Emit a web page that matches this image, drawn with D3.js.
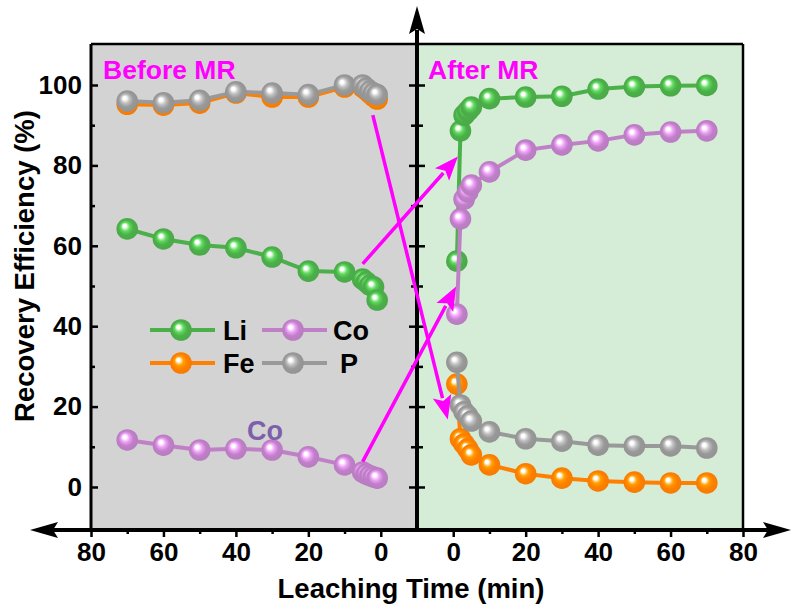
<!DOCTYPE html>
<html>
<head>
<meta charset="utf-8">
<script src="https://cdn.jsdelivr.net/npm/d3@7/dist/d3.min.js"></script>
<style>
  html, body { margin: 0; padding: 0; background: #fff; }
  svg { display: block; font-family: "Liberation Sans", Arial, sans-serif; }
</style>
</head>
<body>
<svg id="chart" width="792" height="608"></svg>
<script>
// ---------- data ----------
const timesBefore = [70, 60, 50, 40, 30, 20, 10, 5, 4, 3, 2, 1];
const liBefore = [64.2, 61.7, 60.2, 59.5, 57.2, 53.7, 53.5, 51.7, 51.0, 50.2, 49.8, 46.5];
const coBefore = [11.7, 10.4, 9.2, 9.5, 9.2, 7.5, 5.5, 3.7, 3.2, 2.8, 2.5, 2.2];
const feBefore = [95.2, 95.0, 95.5, 98.0, 97.0, 97.0, 99.5, 99.5, 98.8, 98.0, 97.2, 96.5];
const pBefore  = [96.0, 95.6, 96.2, 98.3, 98.0, 97.6, 100.0, 100.0, 99.2, 98.5, 98.0, 97.6];

const timesAfter = [1, 2, 3, 4, 5, 10, 20, 30, 40, 50, 60, 70];
const liAfter = [56.2, 88.6, 92.5, 93.5, 94.5, 96.6, 97.0, 97.2, 99.0, 99.6, 99.8, 99.9];
const coAfter = [43.0, 66.7, 71.6, 73.4, 75.1, 78.4, 83.8, 85.1, 86.1, 87.6, 88.3, 88.6];
const feAfter = [25.6, 12.0, 10.7, 9.5, 8.0, 5.5, 3.3, 2.2, 1.5, 1.2, 1.0, 1.0];
const pAfter  = [31.0, 20.4, 18.7, 17.7, 16.4, 13.7, 12.0, 11.4, 10.4, 10.2, 10.2, 9.7];

const seriesNames = ["Li", "Co", "Fe", "P"];
const seriesColors = ["#4cb04a", "#c080c8", "#ff8000", "#999999"];
const yTicks = [0, 20, 40, 60, 80, 100];
const yMinor = [10, 30, 50, 70, 90];
const xTicksLeft = [80, 60, 40, 20, 0];
const xTicksRight = [0, 20, 40, 60, 80];
const xMinor = [70, 50, 30, 10];
// arrows: from (time before, value) to (time after, value)
const arrowsData = [
  {from: [5, 55.5], to: [1.3, 82.2]},
  {from: [5, 6.3], to: [0.8, 49.9]},
  {from: [2.2, 92.5], to: [-1.5, 16.8]}
];

// ---------- layout ----------
const svg = d3.select("#chart");
const pLeft = 91, pMid = 417, pRight = 743, pTop = 44, pBottom = 530;
const xL = d3.scaleLinear().domain([80, -10]).range([pLeft, pMid]);
const xR = d3.scaleLinear().domain([-10, 80]).range([pMid, pRight]);
const y = d3.scaleLinear().domain([-10.7, 110.2]).range([pBottom, pTop]);
const FONT = "Liberation Sans, Arial, sans-serif";

// gradients
const defs = svg.append("defs");
seriesColors.forEach((c, i) => {
  const g = defs.append("radialGradient").attr("id", "grad" + i)
    .attr("cx", "0.5").attr("cy", "0.5").attr("r", "0.55")
    .attr("fx", "0.36").attr("fy", "0.34");
  const col = d3.color(c);
  g.append("stop").attr("offset", "0%").attr("stop-color", "#ffffff");
  g.append("stop").attr("offset", "14%").attr("stop-color", "#ffffff");
  g.append("stop").attr("offset", "38%").attr("stop-color", col.brighter(0.6).formatHex());
  g.append("stop").attr("offset", "62%").attr("stop-color", c);
  g.append("stop").attr("offset", "100%").attr("stop-color", col.darker(0.15).formatHex());
});

// backgrounds
svg.append("rect").attr("x", pLeft).attr("y", pTop).attr("width", pMid - pLeft).attr("height", pBottom - pTop).attr("fill", "#d3d3d3");
svg.append("rect").attr("x", pMid).attr("y", pTop).attr("width", pRight - pMid).attr("height", pBottom - pTop).attr("fill", "#d5edd6");

// frame lines
svg.append("line").attr("x1", pLeft).attr("x2", pRight).attr("y1", pTop).attr("y2", pTop).attr("stroke", "#000").attr("stroke-width", 2.5);
svg.append("line").attr("x1", pRight).attr("x2", pRight).attr("y1", pTop).attr("y2", pBottom).attr("stroke", "#000").attr("stroke-width", 2.5);

// left y axis (ticks inward)
const yAxisL = svg.append("g").attr("transform", `translate(${pLeft},0)`)
  .call(d3.axisLeft(y).tickValues(yTicks).tickSize(-7).tickPadding(9).tickFormat(d3.format("d")));
yAxisL.select(".domain").attr("stroke-width", 3).attr("d", `M0,${pTop}V${pBottom}`);
yAxisL.selectAll(".tick line").attr("stroke-width", 2.5);
yAxisL.selectAll(".tick text").attr("font-size", 26).attr("font-weight", "bold").attr("fill", "#000")
  .attr("font-family", FONT);
const yMinL = svg.append("g").attr("transform", `translate(${pLeft},0)`)
  .call(d3.axisLeft(y).tickValues(yMinor).tickSize(-4).tickFormat(""));
yMinL.select(".domain").remove();
yMinL.selectAll(".tick line").attr("stroke-width", 2.5);

// data drawing
function drawSeries(xs, times, vals, i) {
  const line = d3.line().x((d, k) => xs(times[k])).y(d => y(d));
  svg.append("path").datum(vals).attr("d", line).attr("fill", "none")
    .attr("stroke", seriesColors[i]).attr("stroke-width", 4).attr("stroke-linejoin", "round");
  svg.append("g").selectAll("circle").data(vals).join("circle")
    .attr("cx", (d, k) => xs(times[k])).attr("cy", d => y(d)).attr("r", 10.8)
    .attr("fill", `url(#grad${i})`);
}
const before = [liBefore, coBefore, feBefore, pBefore];
const after = [liAfter, coAfter, feAfter, pAfter];
before.forEach((v, i) => drawSeries(xL, timesBefore, v, i));
after.forEach((v, i) => drawSeries(xR, timesAfter, v, i));

// middle axis (crossing ticks)
const midAxis = svg.append("g").attr("transform", `translate(${pMid},0)`);
midAxis.append("g").call(d3.axisLeft(y).tickValues(yTicks).tickSize(8).tickFormat(""))
  .call(g => g.select(".domain").remove());
midAxis.append("g").call(d3.axisRight(y).tickValues(yTicks).tickSize(8).tickFormat(""))
  .call(g => g.select(".domain").remove());
midAxis.append("g").call(d3.axisLeft(y).tickValues(yMinor).tickSize(6).tickFormat(""))
  .call(g => g.select(".domain").remove());
midAxis.append("g").call(d3.axisRight(y).tickValues(yMinor).tickSize(6).tickFormat(""))
  .call(g => g.select(".domain").remove());
midAxis.selectAll(".tick line").attr("stroke-width", 2.5);
midAxis.append("line").attr("x1", 0).attr("x2", 0).attr("y1", 30).attr("y2", pBottom + 2)
  .attr("stroke", "#000").attr("stroke-width", 4);
svg.append("path").attr("d", `M${pMid},6 L${pMid + 8},34 L${pMid},29 L${pMid - 8},34 Z`).attr("fill", "#000");

// bottom axes
function bottomAxis(xs, vals, minors) {
  const g = svg.append("g").attr("transform", `translate(0,${pBottom})`)
    .call(d3.axisBottom(xs).tickValues(vals).tickSize(7).tickPadding(6).tickFormat(d3.format("d")));
  g.select(".domain").remove();
  g.selectAll(".tick line").attr("stroke-width", 2.5);
  g.selectAll(".tick text").attr("font-size", 26).attr("font-weight", "bold").attr("fill", "#000")
    .attr("font-family", FONT);
  const m = svg.append("g").attr("transform", `translate(0,${pBottom})`)
    .call(d3.axisBottom(xs).tickValues(minors).tickSize(4).tickFormat(""));
  m.select(".domain").remove();
  m.selectAll(".tick line").attr("stroke-width", 2.5);
}
bottomAxis(xL, xTicksLeft, xMinor);
bottomAxis(xR, xTicksRight, xMinor);
svg.append("line").attr("x1", 52).attr("x2", 772).attr("y1", pBottom).attr("y2", pBottom)
  .attr("stroke", "#000").attr("stroke-width", 4);
svg.append("path").attr("d", `M30,${pBottom} L58,${pBottom - 8} L53,${pBottom} L58,${pBottom + 8} Z`).attr("fill", "#000");
svg.append("path").attr("d", `M791,${pBottom} L763,${pBottom - 8} L768,${pBottom} L763,${pBottom + 8} Z`).attr("fill", "#000");

// magenta arrows
const magenta = "#ff00ff";
arrowsData.forEach(a => {
  const x1 = xL(a.from[0]), y1 = y(a.from[1]);
  const x2 = xR(a.to[0]), y2 = y(a.to[1]);
  const ang = Math.atan2(y2 - y1, x2 - x1);
  const hl = 24, hw = 9.5;
  const bx = x2 - hl * Math.cos(ang), by = y2 - hl * Math.sin(ang);
  const nx = -Math.sin(ang), ny = Math.cos(ang);
  svg.append("line").attr("x1", x1).attr("y1", y1).attr("x2", bx + 2 * Math.cos(ang)).attr("y2", by + 2 * Math.sin(ang))
    .attr("stroke", magenta).attr("stroke-width", 3.5);
  const nbx = x2 - (hl - 5) * Math.cos(ang), nby = y2 - (hl - 5) * Math.sin(ang);
  svg.append("path").attr("d",
    `M${x2},${y2} L${bx + hw * nx},${by + hw * ny} L${nbx},${nby} L${bx - hw * nx},${by - hw * ny} Z`)
    .attr("fill", magenta);
});

// panel labels
svg.append("text").attr("x", 103).attr("y", 79).text("Before MR")
  .attr("font-size", 26.5).attr("font-weight", "bold").attr("fill", magenta);
svg.append("text").attr("x", 428).attr("y", 79).text("After MR")
  .attr("font-size", 26.5).attr("font-weight", "bold").attr("fill", magenta);
svg.append("text").attr("x", 265).attr("y", 440).attr("text-anchor", "middle").text("Co")
  .attr("font-size", 27).attr("font-weight", "bold").attr("fill", "#7d5fab");

// legend
const legendPos = [[150, 330], [262, 330], [150, 363], [262, 363]];
const legendTextX = [223, 333, 223, 340];
seriesNames.forEach((n, i) => {
  const [lx, ly] = legendPos[i];
  svg.append("line").attr("x1", lx).attr("x2", lx + 65).attr("y1", ly).attr("y2", ly)
    .attr("stroke", seriesColors[i]).attr("stroke-width", 4);
  svg.append("circle").attr("cx", lx + 31).attr("cy", ly).attr("r", 10.8).attr("fill", `url(#grad${i})`);
  svg.append("text").attr("x", legendTextX[i]).attr("y", ly + 10).text(n)
    .attr("font-size", 27).attr("font-weight", "bold").attr("fill", "#000");
});

// axis titles
svg.append("text").attr("x", 411).attr("y", 598).attr("text-anchor", "middle")
  .text("Leaching Time (min)").attr("font-size", 27.5).attr("font-weight", "bold");
svg.append("text").attr("transform", "translate(34,266) rotate(-90)").attr("text-anchor", "middle")
  .text("Recovery Efficiency (%)").attr("font-size", 27.5).attr("font-weight", "bold");
</script>
</body>
</html>
